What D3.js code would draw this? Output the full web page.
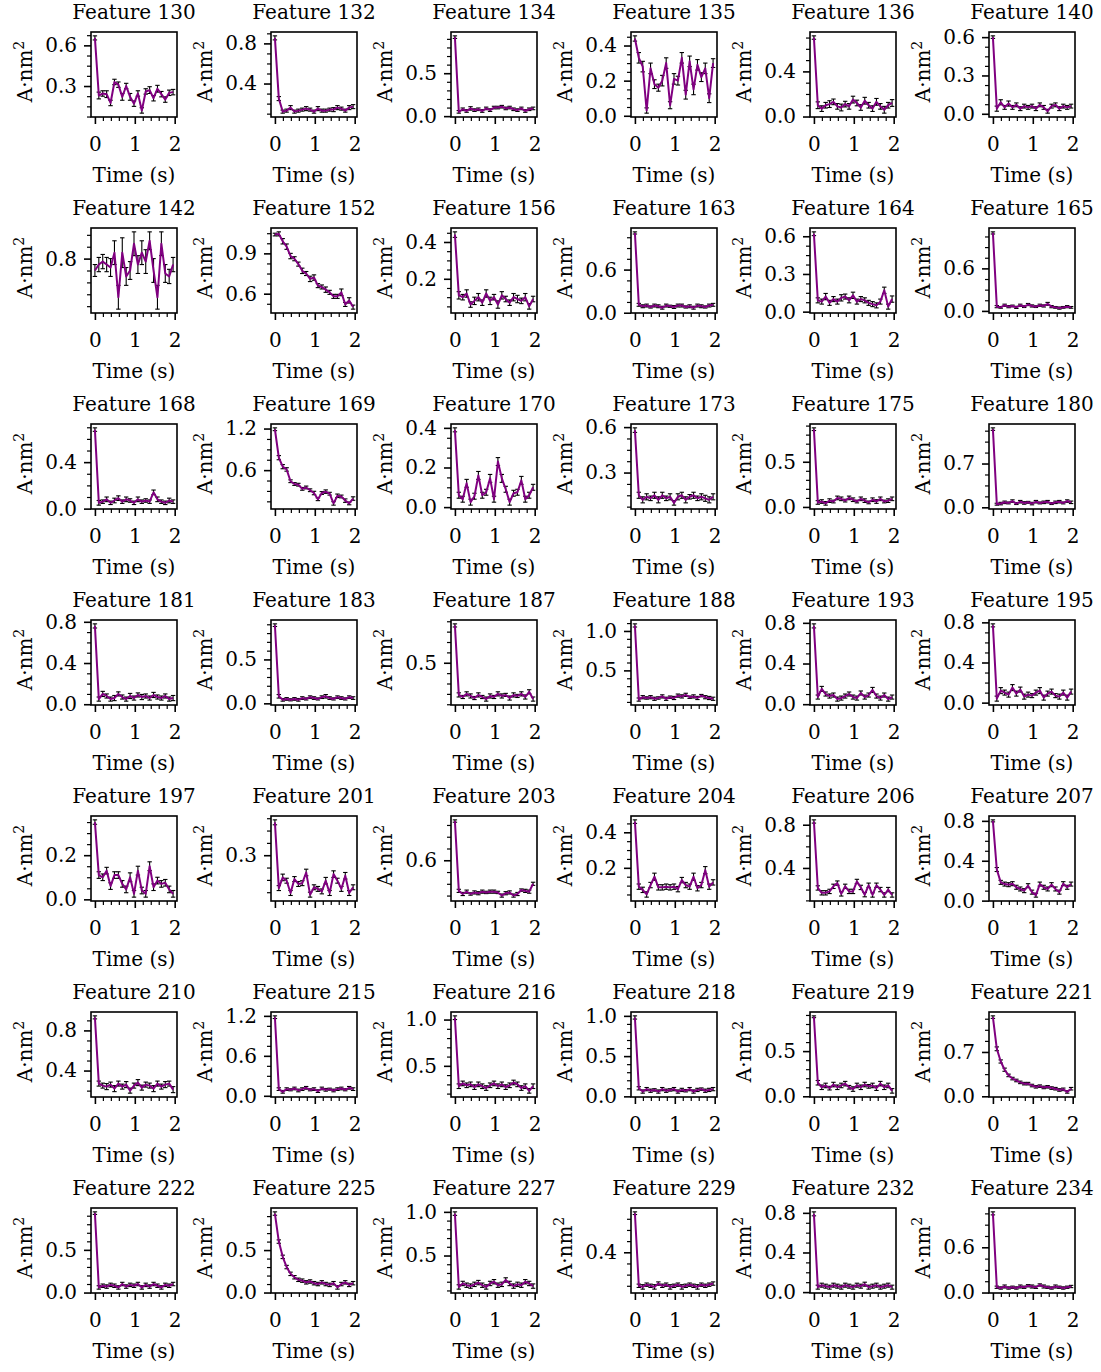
<!DOCTYPE html>
<html><head><meta charset="utf-8">
<script src="https://cdn.jsdelivr.net/npm/d3@7"></script>
<style>body{margin:0;background:#fff} svg text{font-family:"DejaVu Serif",serif;fill:#000}</style>
</head><body><svg id="c" width="1101" height="1372"></svg>
<script>
const features = [130,132,134,135,136,140,142,152,156,163,164,165,168,169,170,173,175,180,181,183,187,188,193,195,197,201,203,204,206,207,210,215,216,218,219,221,222,225,227,229,232,234];
const times = [0,0.098,0.196,0.294,0.392,0.49,0.588,0.686,0.784,0.882,0.98,1.078,1.176,1.274,1.372,1.47,1.568,1.666,1.764,1.862,1.96];
const xTicks = [0,1,2];
const values = [
[0.655,0.23,0.245,0.24,0.175,0.33,0.31,0.22,0.3,0.22,0.17,0.245,0.12,0.26,0.27,0.21,0.28,0.24,0.2,0.25,0.255],
[0.855,0.25,0.12,0.13,0.16,0.12,0.13,0.14,0.15,0.14,0.12,0.15,0.13,0.13,0.14,0.14,0.16,0.15,0.13,0.16,0.17],
[0.92,0.05,0.08,0.06,0.09,0.07,0.08,0.06,0.09,0.07,0.1,0.1,0.11,0.09,0.1,0.08,0.07,0.09,0.06,0.08,0.09],
[0.44,0.33,0.28,0.03,0.27,0.18,0.16,0.2,0.3,0.06,0.21,0.2,0.33,0.12,0.31,0.15,0.29,0.22,0.27,0.1,0.3],
[0.7,0.1,0.07,0.1,0.11,0.13,0.09,0.08,0.11,0.09,0.15,0.12,0.08,0.14,0.1,0.07,0.13,0.09,0.06,0.1,0.12],
[0.6,0.04,0.09,0.05,0.08,0.05,0.07,0.04,0.06,0.05,0.06,0.04,0.07,0.05,0.02,0.06,0.07,0.04,0.06,0.05,0.06],
[0.78,0.79,0.795,0.79,0.785,0.81,0.735,0.81,0.77,0.78,0.825,0.79,0.81,0.795,0.83,0.78,0.735,0.825,0.775,0.77,0.79],
[1.04,1.045,0.99,0.95,0.88,0.86,0.82,0.77,0.75,0.71,0.72,0.66,0.65,0.63,0.61,0.58,0.58,0.61,0.52,0.55,0.5],
[0.44,0.11,0.1,0.12,0.06,0.08,0.1,0.07,0.12,0.08,0.1,0.06,0.11,0.09,0.07,0.1,0.09,0.08,0.1,0.05,0.09],
[1.11,0.11,0.09,0.1,0.08,0.1,0.09,0.07,0.1,0.09,0.08,0.1,0.1,0.08,0.09,0.07,0.1,0.09,0.08,0.1,0.11],
[0.62,0.09,0.08,0.12,0.07,0.1,0.08,0.11,0.12,0.09,0.13,0.08,0.1,0.09,0.07,0.06,0.05,0.08,0.17,0.04,0.1],
[1.1,0.06,0.05,0.08,0.06,0.07,0.05,0.08,0.06,0.09,0.07,0.06,0.08,0.07,0.1,0.06,0.05,0.04,0.05,0.06,0.05],
[0.68,0.05,0.06,0.08,0.05,0.07,0.09,0.06,0.08,0.07,0.05,0.08,0.06,0.07,0.06,0.14,0.08,0.06,0.05,0.07,0.06],
[1.19,0.78,0.65,0.61,0.44,0.4,0.39,0.33,0.35,0.31,0.27,0.18,0.27,0.29,0.26,0.12,0.23,0.22,0.16,0.12,0.19],
[0.39,0.06,0.04,0.12,0.025,0.055,0.16,0.06,0.075,0.145,0.04,0.23,0.145,0.09,0.025,0.07,0.075,0.135,0.04,0.06,0.1],
[0.58,0.15,0.12,0.14,0.13,0.15,0.12,0.15,0.13,0.14,0.1,0.14,0.15,0.12,0.14,0.15,0.13,0.14,0.13,0.12,0.14],
[0.86,0.05,0.06,0.04,0.07,0.06,0.1,0.09,0.07,0.1,0.08,0.06,0.09,0.07,0.05,0.08,0.06,0.09,0.06,0.07,0.09],
[1.25,0.05,0.06,0.08,0.07,0.1,0.06,0.09,0.07,0.08,0.06,0.09,0.07,0.08,0.09,0.06,0.08,0.09,0.07,0.1,0.08],
[0.76,0.05,0.1,0.08,0.05,0.06,0.1,0.07,0.05,0.08,0.06,0.09,0.07,0.08,0.06,0.09,0.07,0.06,0.08,0.05,0.06],
[0.89,0.08,0.04,0.05,0.04,0.05,0.04,0.06,0.05,0.07,0.06,0.05,0.07,0.08,0.06,0.05,0.07,0.06,0.05,0.07,0.06],
[0.86,0.19,0.17,0.2,0.18,0.16,0.19,0.17,0.15,0.18,0.17,0.2,0.18,0.19,0.16,0.19,0.18,0.2,0.17,0.22,0.15],
[1.07,0.13,0.16,0.15,0.16,0.14,0.15,0.17,0.14,0.16,0.15,0.18,0.17,0.19,0.16,0.17,0.15,0.18,0.16,0.15,0.14],
[0.77,0.07,0.15,0.1,0.08,0.09,0.05,0.06,0.08,0.1,0.07,0.06,0.11,0.07,0.09,0.14,0.08,0.06,0.09,0.05,0.07],
[0.77,0.04,0.12,0.1,0.08,0.15,0.09,0.13,0.06,0.08,0.07,0.1,0.12,0.05,0.09,0.11,0.07,0.06,0.1,0.05,0.11],
[0.35,0.11,0.1,0.13,0.06,0.11,0.11,0.07,0.045,0.1,0.025,0.13,0.04,0.025,0.15,0.055,0.085,0.07,0.075,0.045,0.025],
[0.5,0.1,0.165,0.145,0.07,0.155,0.125,0.13,0.195,0.06,0.105,0.095,0.08,0.145,0.07,0.185,0.145,0.095,0.175,0.07,0.105],
[1.1,0.21,0.17,0.2,0.17,0.19,0.18,0.2,0.19,0.2,0.2,0.19,0.15,0.18,0.19,0.15,0.17,0.22,0.21,0.2,0.3],
[0.46,0.094,0.076,0.05,0.103,0.15,0.09,0.09,0.094,0.09,0.094,0.08,0.131,0.103,0.094,0.15,0.085,0.103,0.187,0.094,0.118],
[0.83,0.215,0.17,0.17,0.183,0.23,0.26,0.16,0.23,0.183,0.183,0.275,0.22,0.153,0.24,0.15,0.24,0.2,0.15,0.2,0.15],
[0.8,0.312,0.183,0.166,0.16,0.17,0.134,0.117,0.1,0.15,0.085,0.055,0.166,0.134,0.117,0.16,0.117,0.085,0.17,0.134,0.166],
[0.93,0.27,0.25,0.24,0.26,0.22,0.27,0.24,0.26,0.2,0.25,0.28,0.23,0.26,0.25,0.22,0.27,0.24,0.26,0.27,0.21],
[1.18,0.1,0.06,0.1,0.09,0.11,0.08,0.1,0.12,0.09,0.1,0.07,0.11,0.09,0.1,0.08,0.1,0.11,0.09,0.12,0.1],
[1.02,0.28,0.31,0.29,0.3,0.27,0.3,0.28,0.26,0.29,0.31,0.28,0.3,0.27,0.29,0.32,0.3,0.26,0.28,0.23,0.28],
[0.98,0.1,0.06,0.09,0.07,0.08,0.06,0.09,0.07,0.08,0.09,0.06,0.08,0.07,0.09,0.06,0.08,0.09,0.07,0.08,0.09],
[0.88,0.15,0.1,0.12,0.09,0.13,0.1,0.12,0.14,0.1,0.08,0.12,0.1,0.13,0.11,0.12,0.09,0.14,0.1,0.12,0.06],
[1.25,0.75,0.55,0.42,0.33,0.28,0.25,0.22,0.2,0.2,0.17,0.15,0.16,0.14,0.15,0.13,0.12,0.1,0.11,0.07,0.12],
[0.93,0.06,0.08,0.07,0.09,0.08,0.06,0.1,0.07,0.09,0.08,0.1,0.06,0.09,0.07,0.1,0.08,0.06,0.09,0.08,0.1],
[0.93,0.6,0.42,0.3,0.22,0.18,0.15,0.14,0.12,0.13,0.11,0.1,0.12,0.1,0.09,0.11,0.06,0.1,0.12,0.09,0.11],
[0.98,0.14,0.18,0.16,0.15,0.17,0.19,0.16,0.14,0.18,0.2,0.16,0.17,0.22,0.18,0.15,0.17,0.16,0.2,0.18,0.15],
[0.75,0.1,0.09,0.11,0.1,0.09,0.12,0.1,0.11,0.09,0.1,0.11,0.09,0.1,0.11,0.1,0.09,0.11,0.1,0.11,0.12],
[0.79,0.05,0.07,0.06,0.05,0.07,0.06,0.05,0.07,0.06,0.05,0.07,0.06,0.08,0.05,0.06,0.07,0.05,0.06,0.07,0.05],
[1.05,0.07,0.06,0.08,0.06,0.07,0.06,0.08,0.07,0.09,0.08,0.07,0.1,0.08,0.07,0.06,0.08,0.07,0.06,0.07,0.08]
];
const errors = [
[0.015,0.025,0.02,0.025,0.02,0.02,0.02,0.025,0.02,0.025,0.02,0.02,0.02,0.02,0.025,0.02,0.025,0.02,0.02,0.02,0.02],
[0.02,0.02,0.015,0.015,0.02,0.015,0.015,0.015,0.02,0.015,0.015,0.02,0.015,0.015,0.015,0.02,0.02,0.015,0.015,0.02,0.02],
[0.015,0.015,0.015,0.015,0.02,0.015,0.015,0.015,0.015,0.015,0.015,0.015,0.015,0.015,0.015,0.015,0.015,0.015,0.015,0.015,0.015],
[0.015,0.03,0.03,0.015,0.03,0.025,0.02,0.03,0.03,0.02,0.03,0.025,0.03,0.025,0.03,0.03,0.03,0.025,0.03,0.025,0.025],
[0.015,0.03,0.025,0.025,0.03,0.025,0.025,0.03,0.025,0.025,0.03,0.025,0.025,0.03,0.025,0.025,0.03,0.025,0.03,0.025,0.03],
[0.01,0.02,0.02,0.015,0.02,0.015,0.015,0.015,0.015,0.015,0.015,0.015,0.015,0.015,0.015,0.015,0.015,0.015,0.015,0.015,0.015],
[0.01,0.012,0.012,0.012,0.015,0.02,0.02,0.025,0.015,0.015,0.02,0.015,0.02,0.02,0.015,0.02,0.02,0.02,0.015,0.012,0.012],
[0.01,0.015,0.02,0.02,0.02,0.015,0.015,0.02,0.015,0.02,0.02,0.015,0.015,0.02,0.015,0.015,0.015,0.025,0.015,0.02,0.015],
[0.015,0.02,0.015,0.02,0.015,0.02,0.02,0.015,0.02,0.02,0.015,0.02,0.02,0.015,0.015,0.02,0.02,0.015,0.02,0.015,0.015],
[0.015,0.02,0.02,0.02,0.015,0.02,0.02,0.02,0.02,0.015,0.02,0.02,0.02,0.015,0.02,0.02,0.02,0.02,0.015,0.02,0.02],
[0.015,0.02,0.02,0.025,0.02,0.02,0.02,0.025,0.02,0.02,0.025,0.02,0.02,0.02,0.02,0.02,0.02,0.02,0.025,0.02,0.025],
[0.015,0.015,0.012,0.015,0.015,0.012,0.015,0.015,0.012,0.015,0.015,0.012,0.015,0.015,0.02,0.015,0.012,0.015,0.012,0.015,0.012],
[0.015,0.02,0.015,0.02,0.015,0.02,0.02,0.015,0.02,0.015,0.015,0.02,0.015,0.015,0.015,0.02,0.02,0.015,0.015,0.02,0.015],
[0.02,0.03,0.03,0.025,0.02,0.02,0.02,0.02,0.02,0.02,0.025,0.02,0.02,0.025,0.02,0.025,0.025,0.02,0.025,0.02,0.025],
[0.01,0.015,0.015,0.02,0.015,0.015,0.02,0.015,0.015,0.02,0.015,0.02,0.02,0.015,0.015,0.015,0.015,0.02,0.015,0.015,0.015],
[0.015,0.02,0.02,0.02,0.015,0.02,0.02,0.02,0.015,0.02,0.015,0.02,0.02,0.02,0.015,0.02,0.015,0.02,0.02,0.02,0.02],
[0.015,0.02,0.02,0.02,0.02,0.015,0.02,0.02,0.015,0.02,0.02,0.015,0.02,0.02,0.015,0.02,0.02,0.02,0.015,0.02,0.02],
[0.02,0.015,0.02,0.02,0.015,0.02,0.015,0.02,0.02,0.015,0.02,0.02,0.015,0.02,0.02,0.015,0.02,0.02,0.015,0.02,0.02],
[0.02,0.02,0.025,0.02,0.02,0.025,0.02,0.02,0.02,0.025,0.02,0.02,0.025,0.02,0.02,0.025,0.02,0.02,0.02,0.02,0.025],
[0.015,0.02,0.015,0.015,0.012,0.015,0.015,0.015,0.012,0.015,0.015,0.012,0.015,0.02,0.015,0.012,0.015,0.015,0.012,0.015,0.015],
[0.015,0.02,0.015,0.02,0.02,0.015,0.02,0.015,0.02,0.02,0.015,0.02,0.02,0.015,0.02,0.02,0.015,0.02,0.02,0.02,0.02],
[0.02,0.02,0.02,0.015,0.02,0.02,0.015,0.02,0.02,0.015,0.02,0.02,0.02,0.02,0.015,0.02,0.02,0.015,0.02,0.02,0.02],
[0.02,0.02,0.025,0.02,0.02,0.02,0.02,0.02,0.02,0.02,0.02,0.02,0.02,0.02,0.02,0.025,0.02,0.02,0.02,0.02,0.02],
[0.015,0.025,0.03,0.025,0.025,0.03,0.025,0.025,0.025,0.025,0.02,0.025,0.03,0.025,0.025,0.025,0.02,0.025,0.025,0.025,0.025],
[0.01,0.015,0.015,0.015,0.015,0.015,0.015,0.015,0.015,0.02,0.015,0.02,0.015,0.015,0.02,0.015,0.015,0.015,0.015,0.015,0.015],
[0.015,0.015,0.02,0.015,0.015,0.015,0.015,0.015,0.02,0.015,0.015,0.015,0.015,0.02,0.015,0.02,0.015,0.015,0.02,0.015,0.015],
[0.015,0.02,0.02,0.02,0.015,0.02,0.02,0.02,0.015,0.02,0.02,0.015,0.02,0.02,0.02,0.02,0.02,0.015,0.02,0.02,0.02],
[0.01,0.015,0.015,0.015,0.015,0.02,0.015,0.015,0.015,0.015,0.015,0.015,0.015,0.015,0.015,0.02,0.015,0.015,0.02,0.015,0.015],
[0.015,0.02,0.02,0.02,0.02,0.02,0.02,0.02,0.02,0.02,0.02,0.02,0.02,0.02,0.02,0.02,0.02,0.02,0.02,0.02,0.02],
[0.01,0.02,0.02,0.02,0.02,0.02,0.02,0.02,0.02,0.02,0.02,0.02,0.02,0.02,0.02,0.02,0.02,0.02,0.02,0.02,0.02],
[0.015,0.025,0.025,0.03,0.025,0.03,0.025,0.025,0.03,0.025,0.025,0.03,0.025,0.025,0.025,0.03,0.025,0.025,0.03,0.025,0.03],
[0.02,0.02,0.02,0.02,0.015,0.02,0.02,0.02,0.02,0.015,0.02,0.02,0.02,0.02,0.015,0.02,0.02,0.02,0.015,0.02,0.02],
[0.02,0.025,0.025,0.025,0.025,0.025,0.025,0.025,0.025,0.025,0.025,0.025,0.025,0.025,0.025,0.025,0.025,0.025,0.025,0.025,0.025],
[0.02,0.02,0.02,0.02,0.02,0.015,0.02,0.02,0.02,0.015,0.02,0.02,0.02,0.015,0.02,0.02,0.02,0.015,0.02,0.02,0.02],
[0.01,0.025,0.025,0.025,0.02,0.025,0.025,0.025,0.025,0.02,0.025,0.025,0.025,0.025,0.02,0.025,0.025,0.025,0.025,0.025,0.025],
[0.02,0.03,0.025,0.025,0.02,0.02,0.02,0.02,0.02,0.02,0.02,0.02,0.02,0.02,0.02,0.02,0.02,0.02,0.02,0.02,0.02],
[0.015,0.02,0.02,0.02,0.02,0.02,0.02,0.02,0.02,0.02,0.02,0.02,0.02,0.02,0.02,0.02,0.02,0.02,0.02,0.02,0.02],
[0.02,0.02,0.02,0.02,0.02,0.02,0.02,0.02,0.02,0.02,0.02,0.02,0.02,0.02,0.02,0.02,0.02,0.02,0.02,0.02,0.02],
[0.02,0.025,0.025,0.025,0.025,0.025,0.025,0.025,0.025,0.025,0.025,0.025,0.025,0.025,0.025,0.025,0.025,0.025,0.025,0.025,0.025],
[0.012,0.015,0.02,0.015,0.015,0.02,0.015,0.015,0.015,0.02,0.015,0.015,0.02,0.015,0.015,0.015,0.02,0.015,0.015,0.015,0.015],
[0.02,0.02,0.02,0.02,0.02,0.02,0.02,0.02,0.02,0.02,0.02,0.02,0.02,0.02,0.02,0.02,0.02,0.02,0.02,0.02,0.02],
[0.02,0.015,0.015,0.02,0.015,0.015,0.015,0.02,0.015,0.015,0.02,0.015,0.015,0.02,0.015,0.015,0.02,0.015,0.015,0.015,0.015]
];
const yTicks = [
[0.3,0.6],[0.4,0.8],[0.0,0.5],[0.0,0.2,0.4],[0.0,0.4],[0.0,0.3,0.6],
[0.8],[0.6,0.9],[0.2,0.4],[0.0,0.6],[0.0,0.3,0.6],[0.0,0.6],
[0.0,0.4],[0.6,1.2],[0.0,0.2,0.4],[0.3,0.6],[0.0,0.5],[0.0,0.7],
[0.0,0.4,0.8],[0.0,0.5],[0.5],[0.5,1.0],[0.0,0.4,0.8],[0.0,0.4,0.8],
[0.0,0.2],[0.3],[0.6],[0.2,0.4],[0.4,0.8],[0.0,0.4,0.8],
[0.4,0.8],[0.0,0.6,1.2],[0.5,1.0],[0.0,0.5,1.0],[0.0,0.5],[0.0,0.7],
[0.0,0.5],[0.0,0.5],[0.5,1.0],[0.4],[0.0,0.4,0.8],[0.0,0.6]
];
const yStep = [0.3,0.4,0.5,0.2,0.4,0.3, 0.1,0.3,0.2,0.6,0.3,0.6, 0.4,0.6,0.2,0.3,0.5,0.7,
  0.4,0.5,0.5,0.5,0.4,0.4, 0.2,0.3,0.6,0.2,0.4,0.4, 0.4,0.6,0.5,0.5,0.5,0.7, 0.5,0.5,0.5,0.4,0.4,0.6];

const svg = d3.select('#c');
const colLeft = [91,271,451,631,810,989];
const top0 = 32, rowStep = 196, W = 86, H = 85;
const FONT = '"DejaVu Serif", serif';
const tExt = d3.extent(times), tPad = 0.05*(tExt[1]-tExt[0]);
const xDom = [tExt[0]-tPad, tExt[1]+tPad];

function ndivs(step){
  const m = step/Math.pow(10, Math.floor(Math.log10(step)+1e-9));
  return [1,2.5,5,10].some(v=>Math.abs(v-m)<1e-6) ? 5 : 4;
}
function minorTicks(dom, step, majors){
  const ms = step/ndivs(step), out=[];
  for(let k=Math.ceil(dom[0]/ms-1e-9); k*ms<=dom[1]+1e-9; k++){
    const v = +(k*ms).toFixed(6);
    if(!majors.some(m=>Math.abs(m-v)<1e-6)) out.push(v);
  }
  return out;
}
function styleAxis(sel, width){
  sel.attr('font-family', FONT).attr('font-size', 20);
  sel.select('.domain').remove();
  sel.selectAll('.tick line').attr('stroke','#000').attr('stroke-width', width);
  sel.selectAll('.tick text').attr('fill','#000');
}

features.forEach((f,i)=>{
  const r = Math.floor(i/6), c = i%6;
  const L = colLeft[c], T = top0 + r*rowStep;
  const vals = values[i], errs = errors[i];
  const lo = d3.min(vals,(v,j)=>v-errs[j]), hi = d3.max(vals,(v,j)=>v+errs[j]);
  const pad = 0.05*(hi-lo);
  const yDom = [lo-pad, hi+pad];
  const x = d3.scaleLinear().domain(xDom).range([L, L+W]);
  const y = d3.scaleLinear().domain(yDom).range([T+H, T]);
  const g = svg.append('g');

  const majors = yTicks[i].filter(v=>v>=yDom[0]&&v<=yDom[1]);
  const yMinor = minorTicks(yDom, yStep[i], yTicks[i]);
  g.append('g').attr('transform',`translate(${L},0)`)
    .call(d3.axisLeft(y).tickValues(yMinor).tickSize(4).tickFormat(''))
    .call(s=>styleAxis(s,1.2));
  g.append('g').attr('transform',`translate(${L},0)`)
    .call(d3.axisLeft(y).tickValues(majors).tickSize(7).tickPadding(7).tickFormat(d3.format('.1f')))
    .call(s=>styleAxis(s,1.6));

  const xMinor = minorTicks(xDom, 1, xTicks);
  g.append('g').attr('transform',`translate(0,${T+H})`)
    .call(d3.axisBottom(x).tickValues(xMinor).tickSize(4).tickFormat(''))
    .call(s=>styleAxis(s,1.2));
  g.append('g').attr('transform',`translate(0,${T+H})`)
    .call(d3.axisBottom(x).tickValues(xTicks).tickSize(7).tickPadding(13).tickFormat(d3.format('d')))
    .call(s=>styleAxis(s,1.6));

  // error bars
  const eb = g.append('g').attr('stroke','#000');
  eb.selectAll('line.bar').data(vals).join('line').attr('class','bar')
    .attr('x1',(d,j)=>x(times[j])).attr('x2',(d,j)=>x(times[j]))
    .attr('y1',(d,j)=>y(d-errs[j])).attr('y2',(d,j)=>y(d+errs[j]))
    .attr('stroke-width',1.1);
  ['lo','hi'].forEach(side=>{
    eb.selectAll('line.cap'+side).data(vals).join('line').attr('class','cap'+side)
      .attr('x1',(d,j)=>x(times[j])-2.2).attr('x2',(d,j)=>x(times[j])+2.2)
      .attr('y1',(d,j)=>y(side==='lo'?d-errs[j]:d+errs[j]))
      .attr('y2',(d,j)=>y(side==='lo'?d-errs[j]:d+errs[j]))
      .attr('stroke-width',1.1);
  });
  // data line
  g.append('path').datum(vals)
    .attr('d', d3.line().x((d,j)=>x(times[j])).y(d=>y(d)))
    .attr('fill','none').attr('stroke','#800080').attr('stroke-width',2)
    .attr('stroke-linejoin','round');

  // frame
  g.append('rect').attr('x',L).attr('y',T).attr('width',W).attr('height',H)
    .attr('fill','none').attr('stroke','#000').attr('stroke-width',1.6);

  // title
  g.append('text').attr('x',L+W/2).attr('y',T-13).attr('text-anchor','middle')
    .attr('font-size',20).attr('font-family',FONT).text('Feature '+f);
  // x label
  g.append('text').attr('x',L+W/2).attr('y',T+H+65).attr('text-anchor','middle')
    .attr('font-size',20).attr('font-family',FONT).text('Time (s)');
  // y label
  const yl = g.append('text').attr('transform',`translate(${L-59},${T+H/2-3}) rotate(-90)`)
    .attr('text-anchor','middle').attr('font-size',20).attr('font-family',FONT);
  yl.append('tspan').text('A·nm');
  yl.append('tspan').attr('font-size',14).attr('dy',-8).text('2');
});
</script></body></html>
